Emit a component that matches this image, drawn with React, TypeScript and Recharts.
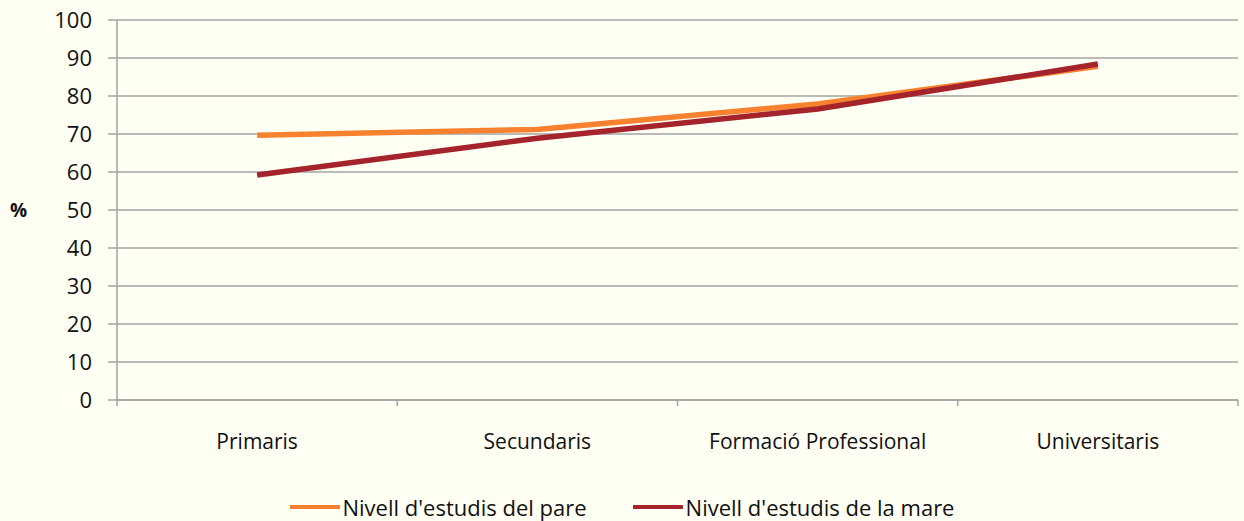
import { LineChart, Line, XAxis, YAxis, CartesianGrid, Legend } from 'recharts';

const CATEGORIES = ['Primaris', 'Secundaris', 'Formació Professional', 'Universitaris'];
const PARE = [69.7, 71.2, 77.9, 87.8];
const MARE = [59.2, 68.9, 76.6, 88.4];
const Y_TICKS = [0, 10, 20, 30, 40, 50, 60, 70, 80, 90, 100];

const SERIES = [
  { key: 'pare', name: "Nivell d'estudis del pare", color: '#F7812E' },
  { key: 'mare', name: "Nivell d'estudis de la mare", color: '#A5232B' },
];

const data = CATEGORIES.map((cat, i) => ({ cat, pare: PARE[i], mare: MARE[i] }));

const GRID = '#A3A3A3';
const FONT = "'Open Sans', sans-serif";

// category label + tick marks on the band boundaries (Excel style)
const BandTick = (props: any) => {
  const { x, y, payload, index, visibleTicksCount, width } = props;
  const half = width / visibleTicksCount / 2;
  const last = index === visibleTicksCount - 1;
  return (
    <g>
      <line x1={x - half} x2={x - half} y1={y} y2={y + 6} stroke={GRID} strokeWidth={1.5} />
      {last && <line x1={x + half} x2={x + half} y1={y} y2={y + 6} stroke={GRID} strokeWidth={1.5} />}
      <text x={x} y={y + 49} textAnchor="middle" fontFamily={FONT} fontSize={21} fill="#111">
        {payload.value}
      </text>
    </g>
  );
};

const LegendContent = () => (
  <div style={{ display: 'flex', justifyContent: 'center', gap: 46, fontFamily: FONT, fontSize: 22, color: '#111' }}>
    {SERIES.map(s => (
      <div key={s.key} style={{ display: 'flex', alignItems: 'center' }}>
        <div style={{ width: 50, height: 4, background: s.color, marginRight: 3 }} />
        <span>{s.name}</span>
      </div>
    ))}
  </div>
);

export default function App() {
  return (
    <div style={{ position: 'absolute', left: 0, top: 0, width: 1244, height: 521, background: '#FFFFF4' }}>
      <LineChart
        width={1244}
        height={521}
        data={data}
        margin={{ top: 20, right: 6, bottom: 0, left: 0 }}
      >
        <CartesianGrid horizontal vertical={false} stroke={GRID} strokeWidth={1.5} />
        <XAxis
          dataKey="cat"
          scale="band"
          height={121}
          axisLine={{ stroke: GRID, strokeWidth: 1.5 }}
          tickLine={false}
          tickSize={0}
          tickMargin={0}
          interval={0}
          tick={<BandTick />}
        />
        <YAxis
          width={117}
          domain={[0, 100]}
          ticks={Y_TICKS}
          interval={0}
          axisLine={{ stroke: GRID, strokeWidth: 1.5 }}
          tickLine={{ stroke: GRID, strokeWidth: 1.5 }}
          tickSize={9}
          tickMargin={16}
          tick={{ fontFamily: FONT, fontSize: 22, fill: '#111' }}
          label={{ value: '%', position: 'insideLeft', offset: 10, fontFamily: FONT, fontSize: 19, fontWeight: 700, fill: '#111' }}
        />
        <Legend
          layout="horizontal"
          verticalAlign="middle"
          content={<LegendContent />}
          wrapperStyle={{ top: 492, left: 0, width: 1244 }}
        />
        {SERIES.map(s => (
          <Line
            key={s.key}
            dataKey={s.key}
            name={s.name}
            stroke={s.color}
            strokeWidth={5.5}
            dot={false}
            type="linear"
            isAnimationActive={false}
          />
        ))}
      </LineChart>
    </div>
  );
}
